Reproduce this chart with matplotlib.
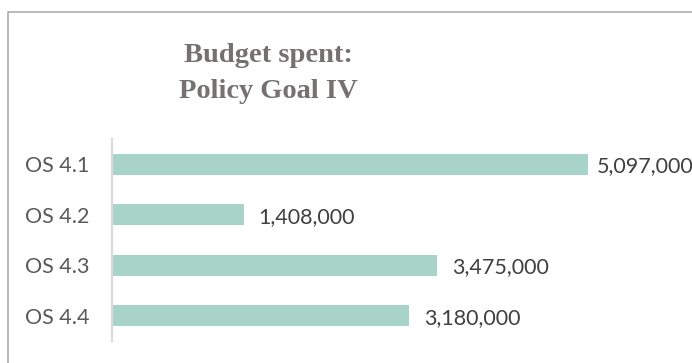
import matplotlib
matplotlib.use("Agg")
import matplotlib.pyplot as plt
from matplotlib.patches import Rectangle

# Data
categories = ["OS 4.1", "OS 4.2", "OS 4.3", "OS 4.4"]
budget_spent = [5097000, 1408000, 3475000, 3180000]
title_lines = ["Budget spent:", "Policy Goal IV"]

W, H, DPI = 692, 363, 100
fig = plt.figure(figsize=(W / DPI, H / DPI), dpi=DPI)
fig.patch.set_facecolor("white")

# Chart frame (open at right and bottom edges)
frame = Rectangle((8 / W, -0.05), 1.2, (H - 12) / H + 0.05,
                  transform=fig.transFigure, fill=False,
                  edgecolor="#a6a6a6", linewidth=1.1)
fig.add_artist(frame)

# Plot area
left, right, top, bottom = 112, 692, 139, 341
ax = fig.add_axes([left / W, (H - bottom) / H, (right - left) / W, (bottom - top) / H])
ax.set_facecolor("none")

y = list(range(len(categories)))
ax.barh(y, budget_spent, height=0.41, color="#a8d3c9", edgecolor="none")
ax.set_ylim(len(categories) - 0.5, -0.5)
ax.set_xlim(0, 6.21e6)

ax.set_yticks(y)
ax.set_yticklabels(categories, fontsize=15.5, color="#595959", family="Lato")
ax.tick_params(axis="y", length=0, pad=16.5)
ax.set_xticks([])

for side in ("top", "right", "bottom"):
    ax.spines[side].set_visible(False)
ax.spines["left"].set_color("#d9d9d9")
ax.spines["left"].set_linewidth(1.6)

longest = max(budget_spent)
for yi, v in zip(y, budget_spent):
    pad = 6 if v == longest else 11
    ax.annotate(f"{v:,}", xy=(v, yi), xytext=(pad, 0), textcoords="offset points",
                va="center_baseline", ha="left", fontsize=15.5, color="#404040",
                family="Lato", annotation_clip=False)

# Title
for text, base in zip(title_lines, [62, 98]):
    fig.text(268 / W, (H - base) / H, text, ha="center", va="baseline",
             fontsize=20.5, fontweight="bold", color="#767171",
             family="Liberation Serif")

fig.savefig("out.png", dpi=DPI)
